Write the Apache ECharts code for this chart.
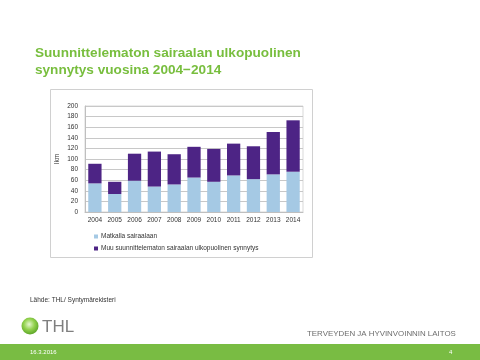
<!DOCTYPE html>
<html><head><meta charset="utf-8">
<script src="https://cdn.jsdelivr.net/npm/echarts@6/dist/echarts.min.js"></script>
<style>html,body{margin:0;padding:0;background:#fff}#c{width:480px;height:360px}</style>
</head><body><div id="c"></div>
<script>
const years = ['2004','2005','2006','2007','2008','2009','2010','2011','2012','2013','2014'];
const matkalla = [54,34,59,48,52,65,57,69,62,71,76];
const muu = [37,23,51,66,57,58,62,60,62,80,97];
const seriesNames = ['Matkalla sairaalaan','Muu suunnittelematon sairaalan ulkopuolinen synnytys'];
const yTicks = {min:0, max:200, interval:20};

const chart = echarts.init(document.getElementById('c'), null, {renderer:'canvas'});
const F = 'Liberation Sans, Arial, sans-serif';
chart.setOption({
  animation:false,
  backgroundColor:'#fff',
  grid:{left:85, right:177, top:106, bottom:148, show:true, borderColor:'#d9d9d9', borderWidth:1},
  xAxis:{type:'category', data:years,
    axisLine:{show:true, lineStyle:{color:'#bfbfbf'}}, axisTick:{show:false},
    axisLabel:{fontFamily:F, fontSize:6.5, color:'#333', margin:5, interval:0}},
  yAxis:{type:'value', min:yTicks.min, max:yTicks.max, interval:yTicks.interval,
    name:'lkm', nameLocation:'middle', nameGap:24, nameRotate:90,
    nameTextStyle:{fontFamily:F, fontSize:6.5, color:'#333'},
    axisLine:{show:true, lineStyle:{color:'#bfbfbf'}}, axisTick:{show:false},
    axisLabel:{fontFamily:F, fontSize:6.5, color:'#333', margin:7},
    splitLine:{lineStyle:{color:'#c8c8c8', width:1}}},
  legend:{orient:'vertical', left:89, top:228, itemWidth:4, itemHeight:4, itemGap:5,
    icon:'rect', textStyle:{fontFamily:F, fontSize:6.5, color:'#333', padding:[0,0,0,-2]},
    data:seriesNames},
  series:[
    {name:seriesNames[0], type:'bar', stack:'a', data:matkalla, barWidth:'67%', itemStyle:{color:'#a5c9e4'}},
    {name:seriesNames[1], type:'bar', stack:'a', data:muu, barWidth:'67%', itemStyle:{color:'#4d2485'}}
  ],
  graphic:[
    {type:'rect', shape:{x:50.5,y:89.5,width:262,height:168}, style:{fill:'none', stroke:'#d0d0d0', lineWidth:1}, z:-1},
    {type:'text', x:35, y:53.5, style:{text:'Suunnittelematon sairaalan ulkopuolinen', fill:'#78be3e', font:'bold 13.6px '+F, verticalAlign:'middle'}},
    {type:'text', x:35, y:70.5, style:{text:'synnytys vuosina 2004\u22122014', fill:'#78be3e', font:'bold 13.6px '+F, verticalAlign:'middle'}},
    {type:'text', x:30, y:300, style:{text:'Lähde: THL/ Syntymärekisteri', fill:'#333', font:'6.5px '+F, verticalAlign:'middle'}},
    {type:'circle', shape:{cx:30, cy:326, r:8.5}, style:{fill:{type:'radial', x:0.45, y:0.4, r:0.7, colorStops:[{offset:0,color:'#e6f7cf'},{offset:0.45,color:'#93d24e'},{offset:1,color:'#4a961b'}]}}},
    {type:'text', x:42, y:327, style:{text:'THL', fill:'#7f7f7f', font:'17px '+F, verticalAlign:'middle'}},
    {type:'text', x:307, y:334, style:{text:'TERVEYDEN JA HYVINVOINNIN LAITOS', fill:'#6d6d6d', font:'7.9px '+F, verticalAlign:'middle'}},
    {type:'rect', shape:{x:0,y:344,width:480,height:16}, style:{fill:'#79bc43'}},
    {type:'text', x:30, y:352.5, style:{text:'16.3.2016', fill:'#fff', font:'6px '+F, verticalAlign:'middle'}},
    {type:'text', x:449, y:352.5, style:{text:'4', fill:'#fff', font:'6px '+F, verticalAlign:'middle'}}
  ]
});
</script></body></html>
